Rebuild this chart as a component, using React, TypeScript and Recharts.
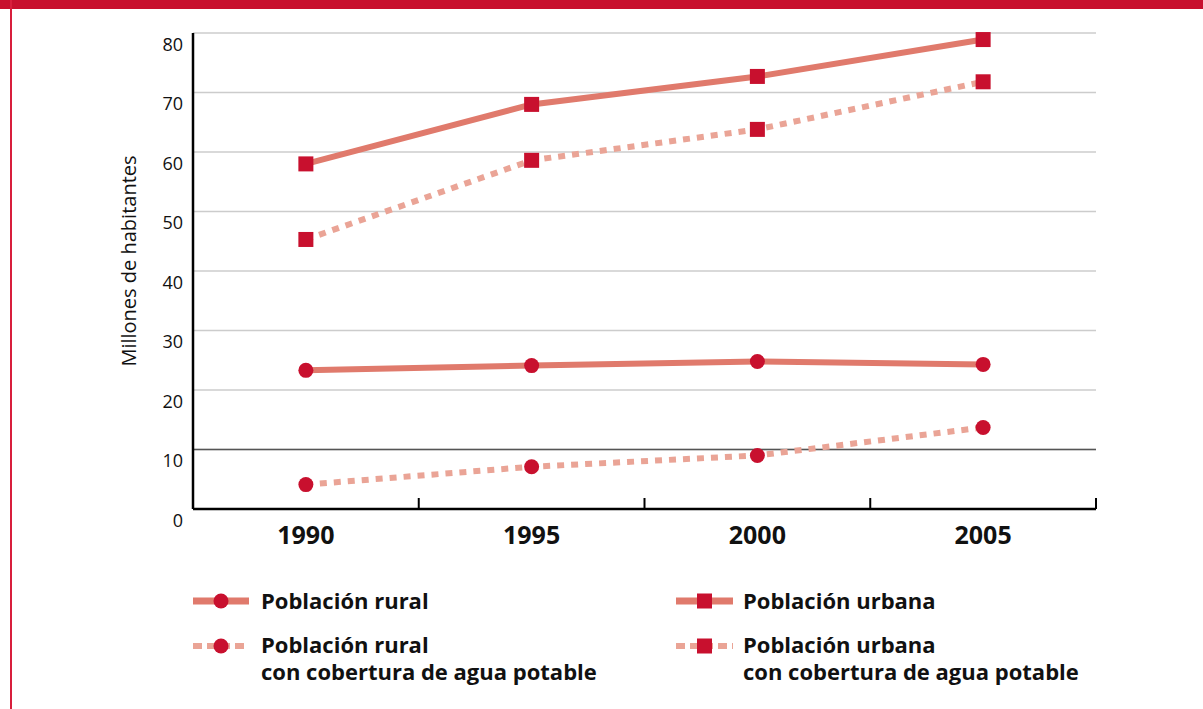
import React from 'react';
import { LineChart, Line, XAxis, YAxis, CartesianGrid, ReferenceLine } from 'recharts';

const years = ['1990', '1995', '2000', '2005'];
const ruralTotal = [23.3, 24.1, 24.8, 24.3];
const ruralAgua = [4.1, 7.1, 9.0, 13.7];
const urbanaTotal = [58.0, 68.0, 72.7, 78.9];
const urbanaAgua = [45.3, 58.6, 63.8, 71.8];
const yTicks = [0, 10, 20, 30, 40, 50, 60, 70, 80];
const xTicks = [0, 0.5, 1, 1.5, 2, 2.5, 3, 3.5, 4];

const data = years.map((year, i) => ({
  pos: i + 0.5,
  year,
  ruralTotal: ruralTotal[i],
  ruralAgua: ruralAgua[i],
  urbanaTotal: urbanaTotal[i],
  urbanaAgua: urbanaAgua[i],
}));

const RED = '#C8102E';
const SOLID = '#E07A6C';
const DOTTED = '#EAA496';
const FONT = '"Open Sans", sans-serif';

const CircleDot = (props: any) => {
  const { cx, cy, index } = props;
  if (cx == null || cy == null) return <g key={`c${index}`} />;
  return <circle key={`c${index}`} cx={cx} cy={cy} r={7.5} fill={RED} />;
};

const SquareDot = (props: any) => {
  const { cx, cy, index } = props;
  if (cx == null || cy == null) return <g key={`s${index}`} />;
  return <rect key={`s${index}`} x={cx - 7.5} y={cy - 7.5} width={15} height={15} fill={RED} />;
};

const XTick = (props: any) => {
  const { x, y, payload } = props;
  const v = payload.value as number;
  if (Number.isInteger(v)) {
    return <line x1={x} x2={x} y1={y - 11} y2={y} stroke="#000" strokeWidth={2} />;
  }
  const label = years[Math.floor(v)];
  return (
    <text x={x} y={y + 35} textAnchor="middle" fontFamily={FONT} fontWeight={700} fontSize={25} fill="#111">
      {label}
    </text>
  );
};

const YTick = (props: any) => {
  const { x, y, payload } = props;
  return (
    <text x={x - 10} y={y + 17.5} textAnchor="end" fontFamily={FONT} fontSize={18} fill="#111">
      {payload.value}
    </text>
  );
};

const YLabel = () => (
  <text
    x={136}
    y={261}
    transform="rotate(-90 136 261)"
    textAnchor="middle"
    fontFamily={FONT}
    fontSize={20}
    fill="#111"
  >
    Millones de habitantes
  </text>
);

const legendText = { fontFamily: FONT, fontWeight: 700, fontSize: 22, fill: '#111' } as const;

export default function App() {
  return (
    <div style={{ position: 'absolute', left: 0, top: 0, width: 1203, height: 709, background: '#fff', overflow: 'hidden' }}>
      <div style={{ position: 'absolute', left: 0, top: 0, width: 1203, height: 9, background: RED }} />
      <div style={{ position: 'absolute', left: 10, top: 0, width: 2, height: 709, background: '#D81E3C' }} />
      <LineChart
        width={1203}
        height={709}
        data={data}
        margin={{ top: 33, right: 107, left: 113, bottom: 140 }}
      >
        <CartesianGrid horizontal vertical={false} stroke="#cccccc" strokeWidth={1.5} />
        <ReferenceLine y={10} stroke="#555" strokeWidth={1.5} />
        <XAxis
          type="number"
          dataKey="pos"
          domain={[0, 4]}
          ticks={xTicks}
          interval={0}
          tickLine={false}
          tickSize={0}
          tickMargin={0}
          axisLine={{ stroke: '#000', strokeWidth: 2.5 }}
          tick={<XTick />}
          height={60}
          allowDecimals
        />
        <YAxis
          type="number"
          domain={[0, 80]}
          ticks={yTicks}
          interval={0}
          tickLine={false}
          tickSize={0}
          tickMargin={0}
          axisLine={{ stroke: '#000', strokeWidth: 2.5 }}
          tick={<YTick />}
          width={80}
          label={{ content: () => <YLabel /> }}
        />
        <Line type="linear" dataKey="ruralTotal" stroke={SOLID} strokeWidth={6} dot={(p: any) => <CircleDot {...p} key={`rt${p.index}`} />} activeDot={false} isAnimationActive={false} />
        <Line type="linear" dataKey="ruralAgua" stroke={DOTTED} strokeWidth={6} strokeDasharray="7 7" dot={(p: any) => <CircleDot {...p} key={`ra${p.index}`} />} activeDot={false} isAnimationActive={false} />
        <Line type="linear" dataKey="urbanaTotal" stroke={SOLID} strokeWidth={6} dot={(p: any) => <SquareDot {...p} key={`ut${p.index}`} />} activeDot={false} isAnimationActive={false} />
        <Line type="linear" dataKey="urbanaAgua" stroke={DOTTED} strokeWidth={6} strokeDasharray="7 7" dot={(p: any) => <SquareDot {...p} key={`ua${p.index}`} />} activeDot={false} isAnimationActive={false} />
      </LineChart>
      <svg width={1203} height={709} style={{ position: 'absolute', left: 0, top: 0, pointerEvents: 'none' }}>
        <line x1={193} x2={249} y1={601} y2={601} stroke={SOLID} strokeWidth={7} />
        <circle cx={221} cy={601} r={7.5} fill={RED} />
        <text x={261} y={609} {...legendText}>Población rural</text>

        <line x1={193} x2={249} y1={646} y2={646} stroke={DOTTED} strokeWidth={6} strokeDasharray="9 5" />
        <circle cx={221} cy={646} r={7.5} fill={RED} />
        <text x={261} y={653} {...legendText}>Población rural</text>
        <text x={261} y={680} {...legendText}>con cobertura de agua potable</text>

        <line x1={676} x2={733} y1={601} y2={601} stroke={SOLID} strokeWidth={7} />
        <rect x={697} y={593.5} width={15} height={15} fill={RED} />
        <text x={743} y={609} {...legendText}>Población urbana</text>

        <line x1={676} x2={733} y1={646} y2={646} stroke={DOTTED} strokeWidth={6} strokeDasharray="9 5" />
        <rect x={697} y={638.5} width={15} height={15} fill={RED} />
        <text x={743} y={653} {...legendText}>Población urbana</text>
        <text x={743} y={680} {...legendText}>con cobertura de agua potable</text>
      </svg>
    </div>
  );
}
